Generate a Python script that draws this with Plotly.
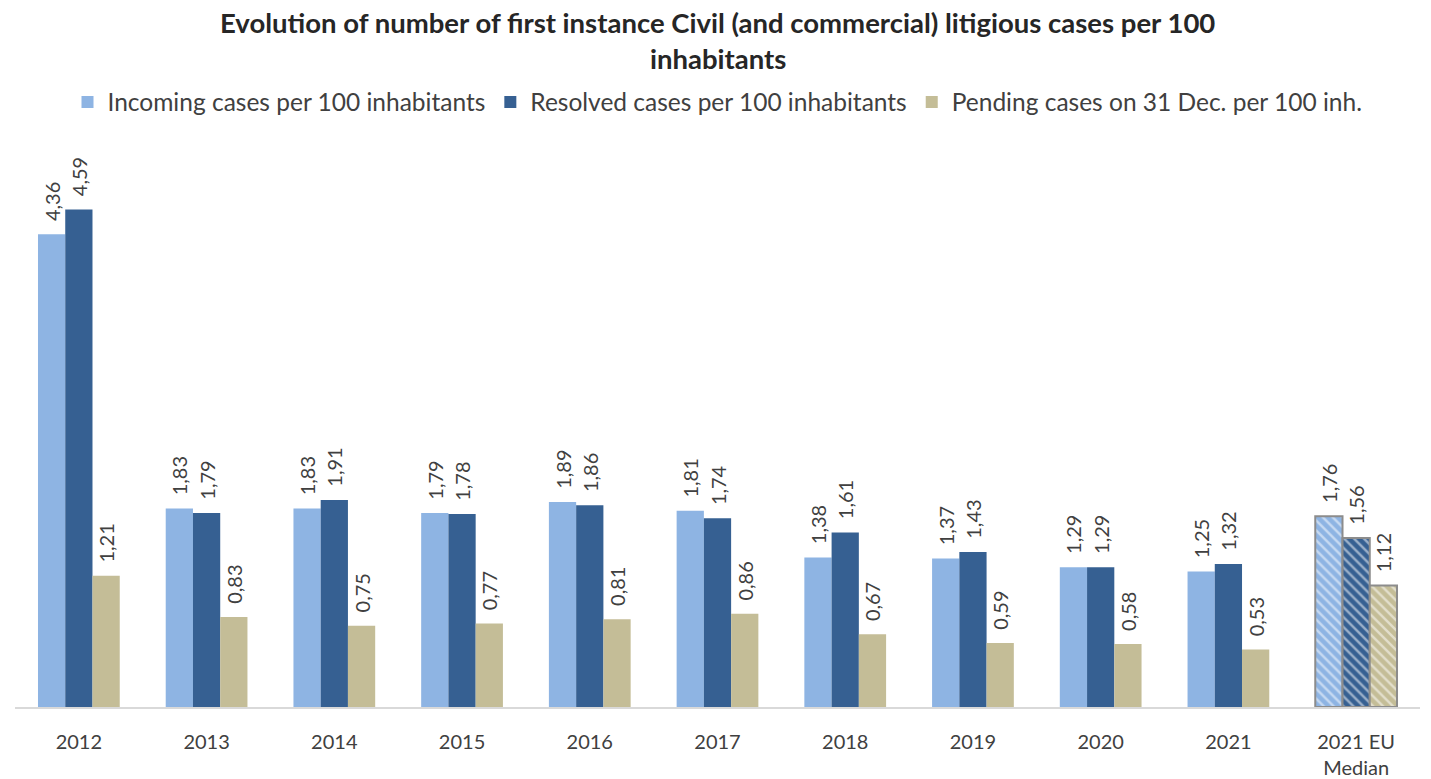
import plotly.graph_objects as go

categories = ["2012", "2013", "2014", "2015", "2016", "2017", "2018", "2019", "2020", "2021", "2021 EU<br>Median"]
incoming = [4.36, 1.83, 1.83, 1.79, 1.89, 1.81, 1.38, 1.37, 1.29, 1.25, 1.76]
resolved = [4.59, 1.79, 1.91, 1.78, 1.86, 1.74, 1.61, 1.43, 1.29, 1.32, 1.56]
pending = [1.21, 0.83, 0.75, 0.77, 0.81, 0.86, 0.67, 0.59, 0.58, 0.53, 1.12]

series = [
    ("Incoming cases per 100 inhabitants", incoming, "#8eb4e3"),
    ("Resolved cases per 100 inhabitants", resolved, "#366092"),
    ("Pending cases on 31 Dec. per 100 inh.", pending, "#c4bd97"),
]

FONT = "Lato, 'Open Sans', sans-serif"
W, H = 1431, 779
M_T, M_B = 140, 72
PLOT_H = H - M_T - M_B

fig = go.Figure()
n = len(categories)
for name, vals, color in series:
    shapes = [""] * (n - 1) + ["\\"]
    line_colors = [color] * (n - 1) + ["#8c8c8c"]
    line_widths = [0] * (n - 1) + [2]
    fig.add_trace(go.Bar(
        name=name,
        x=categories,
        y=vals,
        # small lead-in gap so the rotated labels sit a bit above the bars
        text=["\u00a0\u00a0" + f"{v:.2f}".replace(".", ",") for v in vals],
        textposition="outside",
        textangle=-90,
        constraintext="none",
        cliponaxis=False,
        textfont=dict(family=FONT, size=20, color="#404040"),
        marker=dict(
            color=color,
            line=dict(color=line_colors, width=line_widths),
            pattern=dict(shape=shapes, fgcolor="white", bgcolor=color, size=7, solidity=0.35, fillmode="overlay"),
        ),
    ))

title_lines = [
    ("Evolution of number of first instance Civil (and commercial) litigious cases per 100", 22),
    ("inhabitants", 58),
]
for txt, ypix in title_lines:
    fig.add_annotation(
        text=f"<b>{txt}</b>",
        xref="paper", yref="paper", x=0.5, y=1.0, xanchor="center", yanchor="middle",
        yshift=M_T - ypix, showarrow=False,
        font=dict(family=FONT, size=27.5, color="#262626"),
    )

fig.update_layout(
    width=W,
    height=H,
    barmode="group",
    bargap=0.36,
    bargroupgap=0,
    plot_bgcolor="white",
    paper_bgcolor="white",
    margin=dict(l=15, r=11, t=M_T, b=M_B),
    legend=dict(
        orientation="h", x=0.5, xanchor="center",
        y=1.0 + (M_T - 102) / PLOT_H, yanchor="middle",
        font=dict(family=FONT, size=24.5, color="#404040"),
        traceorder="normal",
    ),
    xaxis=dict(
        showline=True, linecolor="#d9d9d9", linewidth=2,
        tickfont=dict(family=FONT, size=20, color="#404040"),
        ticks="outside", ticklen=0, ticklabelstandoff=16,
        automargin=False,
    ),
    yaxis=dict(
        range=[0, 5.23], visible=False, showgrid=False, zeroline=False,
        automargin=False,
    ),
)

fig.write_html("out.html")
